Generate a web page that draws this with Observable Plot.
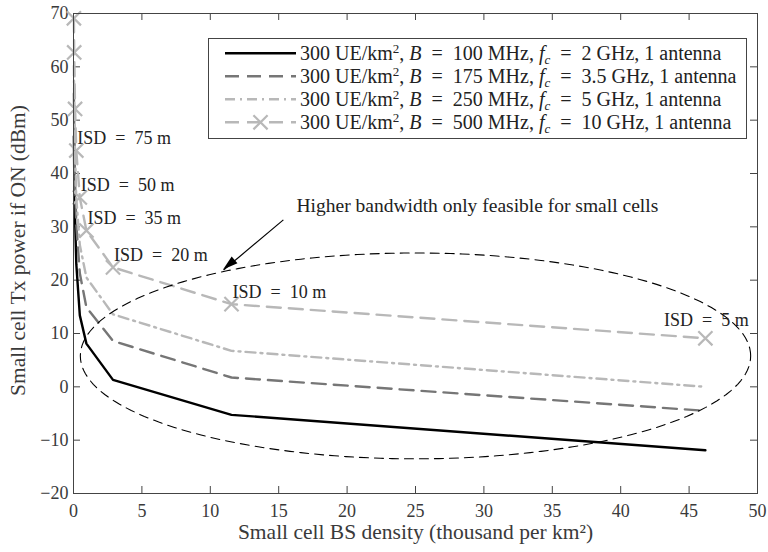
<!DOCTYPE html>
<html>
<head>
<meta charset="utf-8">
<script src="https://cdn.jsdelivr.net/npm/d3@7"></script>
<script src="https://cdn.jsdelivr.net/npm/@observablehq/plot@0.6"></script>
<style>
  body { margin: 0; background: white; }
  #chart { width: 768px; height: 552px; }
</style>
</head>
<body>
<div id="chart"></div>
<script>
// ---- data ----
const isd = [200, 150, 100, 75, 50, 35, 20, 10, 5];                 // inter-site distance (m)
const density = [0.029, 0.051, 0.115, 0.205, 0.462, 0.943, 2.887, 11.55, 46.19]; // thousand per km^2
const p100 = [47, 41, 31.5, 23, 13.4, 8.1, 1.3, -5.25, -11.9];
const p175 = [55, 49, 38.5, 30.5, 21.3, 14.9, 8.6, 1.75, -4.5];
const p250 = [60.2, 53.8, 43.2, 35.3, 26.6, 20.5, 13.6, 6.75, 0.0];
const p500 = [69.1, 62.7, 52.1, 44.3, 35.5, 29.3, 22.4, 15.5, 9.1];
const seriesNames = ["B100", "B175", "B250", "B500"];
const xTicks = [0, 5, 10, 15, 20, 25, 30, 35, 40, 45, 50];
const yTicks = [-20, -10, 0, 10, 20, 30, 40, 50, 60, 70];
const isdLabelsLeft = [75, 50, 35, 20, 10];
const isdLabelsCenter = [5];
const ellipseParams = {cx: 25.0, cy: 5.8, rx: 24.5, ry: 19.3};
const arrowFrom = {x: 15.34, y: 31.3};
const arrowTo = {x: 10.97, y: 21.9};
const noteText = "Higher bandwidth only feasible for small cells";
const noteAt = {x: 16.3, y: 34.0};
const xLabel = "Small cell BS density (thousand per km²)";
const yLabel = "Small cell Tx power if ON (dBm)";

// ---- derived tables ----
const allSeries = [p100, p175, p250, p500];
const rows = seriesNames.flatMap((s, k) => density.map((d, i) => ({s, isd: isd[i], x: d, y: allSeries[k][i]})));
const bySeries = s => rows.filter(r => r.s === s);
const isdPoints = density.map((d, i) => ({isd: isd[i], x: d, y: p500[i]}));
const ellipsePts = d3.range(0, 361, 2).map(a => {
  const t = a * Math.PI / 180;
  return {x: ellipseParams.cx + ellipseParams.rx * Math.cos(t), y: ellipseParams.cy + ellipseParams.ry * Math.sin(t)};
});

const FONT = "Liberation Serif, DejaVu Serif, serif";
const AX = "#444";
const TXT = "#222";
const W = 768, H = 552, ML = 73, MR = 11, MT = 13, MB = 59;
const PW = W - ML - MR, PH = H - MT - MB, TL = 7;
const EQ = "\u2002=\u2002";

const styles = {
  B100: {stroke: "#000000", strokeWidth: 2.4},
  B175: {stroke: "#767676", strokeWidth: 2.4, strokeDasharray: "14,8"},
  B250: {stroke: "#b8b8b8", strokeWidth: 2.4, strokeDasharray: "10,5,2,5"},
  B500: {stroke: "#b8b8b8", strokeWidth: 2.4, strokeDasharray: "14,8"}
};

const plot = Plot.plot({
  width: W, height: H,
  marginLeft: ML, marginRight: MR, marginTop: MT, marginBottom: MB,
  x: {domain: [0, 50]},
  y: {domain: [-20, 70]},
  style: {fontFamily: FONT, fontSize: "18px", color: "#3a3a3a", background: "white"},
  marks: [
    Plot.tickX(xTicks, {x: d => d, insetTop: PH - TL, stroke: AX}),
    Plot.tickX(xTicks, {x: d => d, insetBottom: PH - TL, stroke: AX}),
    Plot.tickY(yTicks, {y: d => d, insetRight: PW - TL, stroke: AX}),
    Plot.tickY(yTicks, {y: d => d, insetLeft: PW - TL, stroke: AX}),
    Plot.axisX(xTicks, {tickSize: 0, tickPadding: 11, label: null, fontSize: 18, fontFamily: FONT}),
    Plot.axisY(yTicks, {tickSize: 0, tickPadding: 5, label: null, fontSize: 18, fontFamily: FONT}),
    ...seriesNames.map(s => Plot.line(bySeries(s), {x: "x", y: "y", ...styles[s], strokeLinejoin: "round"})),
    Plot.dot(isdPoints, {x: "x", y: "y", symbol: "times", r: 6.5, stroke: "#b8b8b8", strokeWidth: 2.2}),
    Plot.line(ellipsePts, {x: "x", y: "y", stroke: "#000", strokeWidth: 1.1, strokeDasharray: "9,6"}),
    Plot.link([{x1: arrowFrom.x, y1: arrowFrom.y, x2: arrowTo.x, y2: arrowTo.y}], {x1: "x1", y1: "y1", x2: "x2", y2: "y2", stroke: "#000", strokeWidth: 1.2}),
    Plot.text(isdPoints.filter(p => isdLabelsLeft.includes(p.isd)), {x: "x", y: "y", text: d => `ISD${EQ}${d.isd} m`, textAnchor: "start", dx: 1, dy: -12, fontSize: 18, fontFamily: FONT, fill: TXT}),
    Plot.text(isdPoints.filter(p => isdLabelsCenter.includes(p.isd)), {x: "x", y: "y", text: d => `ISD${EQ}${d.isd} m`, textAnchor: "middle", dx: 1, dy: -18, fontSize: 18, fontFamily: FONT, fill: TXT}),
    Plot.text([noteAt], {x: "x", y: "y", text: () => noteText, textAnchor: "start", fontSize: 19.5, fontFamily: FONT, fill: TXT}),
    Plot.text([xLabel], {frameAnchor: "bottom", text: d => d, textAnchor: "middle", dy: 45, fontSize: 21.5, fontFamily: FONT, fill: "#3a3a3a"}),
    Plot.text([yLabel], {frameAnchor: "left", text: d => d, textAnchor: "middle", dx: -55, dy: -3, rotate: -90, fontSize: 21.5, fontFamily: FONT, fill: "#3a3a3a"}),
    Plot.frame({stroke: AX})
  ]
});

document.getElementById("chart").appendChild(plot);

// ---- arrowhead (filled), placed through the plot's scales ----
const sx = plot.scale("x"), sy = plot.scale("y");
const svg = d3.select(plot);
{
  const x1 = sx.apply(arrowFrom.x), y1 = sy.apply(arrowFrom.y);
  const x2 = sx.apply(arrowTo.x), y2 = sy.apply(arrowTo.y);
  const ang = Math.atan2(y2 - y1, x2 - x1);
  const L = 15, Wd = 4.5;
  const bx = x2 - L * Math.cos(ang), by = y2 - L * Math.sin(ang);
  const px = -Math.sin(ang), py = Math.cos(ang);
  svg.append("path")
    .attr("d", `M${x2},${y2}L${bx + Wd * px},${by + Wd * py}L${bx - Wd * px},${by - Wd * py}Z`)
    .attr("fill", "#000");
}

// ---- legend ----
const legendEntries = [
  {s: "B100", B: "100", f: "2"},
  {s: "B175", B: "175", f: "3.5"},
  {s: "B250", B: "250", f: "5"},
  {s: "B500", B: "500", f: "10"}
];
const lg = svg.append("g").attr("font-family", FONT).attr("font-size", 20)
  .attr("fill", TXT).attr("text-anchor", "start");
lg.append("rect").attr("x", 208.5).attr("y", 38.5).attr("width", 538).attr("height", 100)
  .attr("fill", "white").attr("stroke", AX);
legendEntries.forEach((e, i) => {
  const y = 53.3 + i * 23;
  const st = styles[e.s];
  lg.append("line").attr("x1", 225).attr("x2", 296).attr("y1", y).attr("y2", y)
    .attr("stroke", st.stroke).attr("stroke-width", st.strokeWidth)
    .attr("stroke-dasharray", st.strokeDasharray || null);
  if (e.s === "B500") {
    lg.append("path").attr("transform", `translate(260.5,${y})`)
      .attr("d", d3.symbol(d3.symbolTimes, Math.PI * 6.5 * 6.5)())
      .attr("fill", "none").attr("stroke", "#b8b8b8").attr("stroke-width", 2.2);
  }
  const t = lg.append("text").attr("x", 300).attr("y", y).attr("dy", "0.35em").attr("text-anchor", "start");
  t.append("tspan").text("300 UE/km");
  t.append("tspan").attr("font-size", 13).attr("dy", "-0.55em").text("2");
  t.append("tspan").attr("dy", "0.36em").text(", ");
  t.append("tspan").attr("font-style", "italic").text("B");
  t.append("tspan").text(`${EQ}${e.B} MHz, `);
  t.append("tspan").attr("font-style", "italic").text("f");
  t.append("tspan").attr("font-style", "italic").attr("font-size", 13).attr("dy", "0.3em").text("c");
  t.append("tspan").attr("dy", "-0.2em").text(`${EQ}${e.f} GHz, 1 antenna`);
});
</script>
</body>
</html>
